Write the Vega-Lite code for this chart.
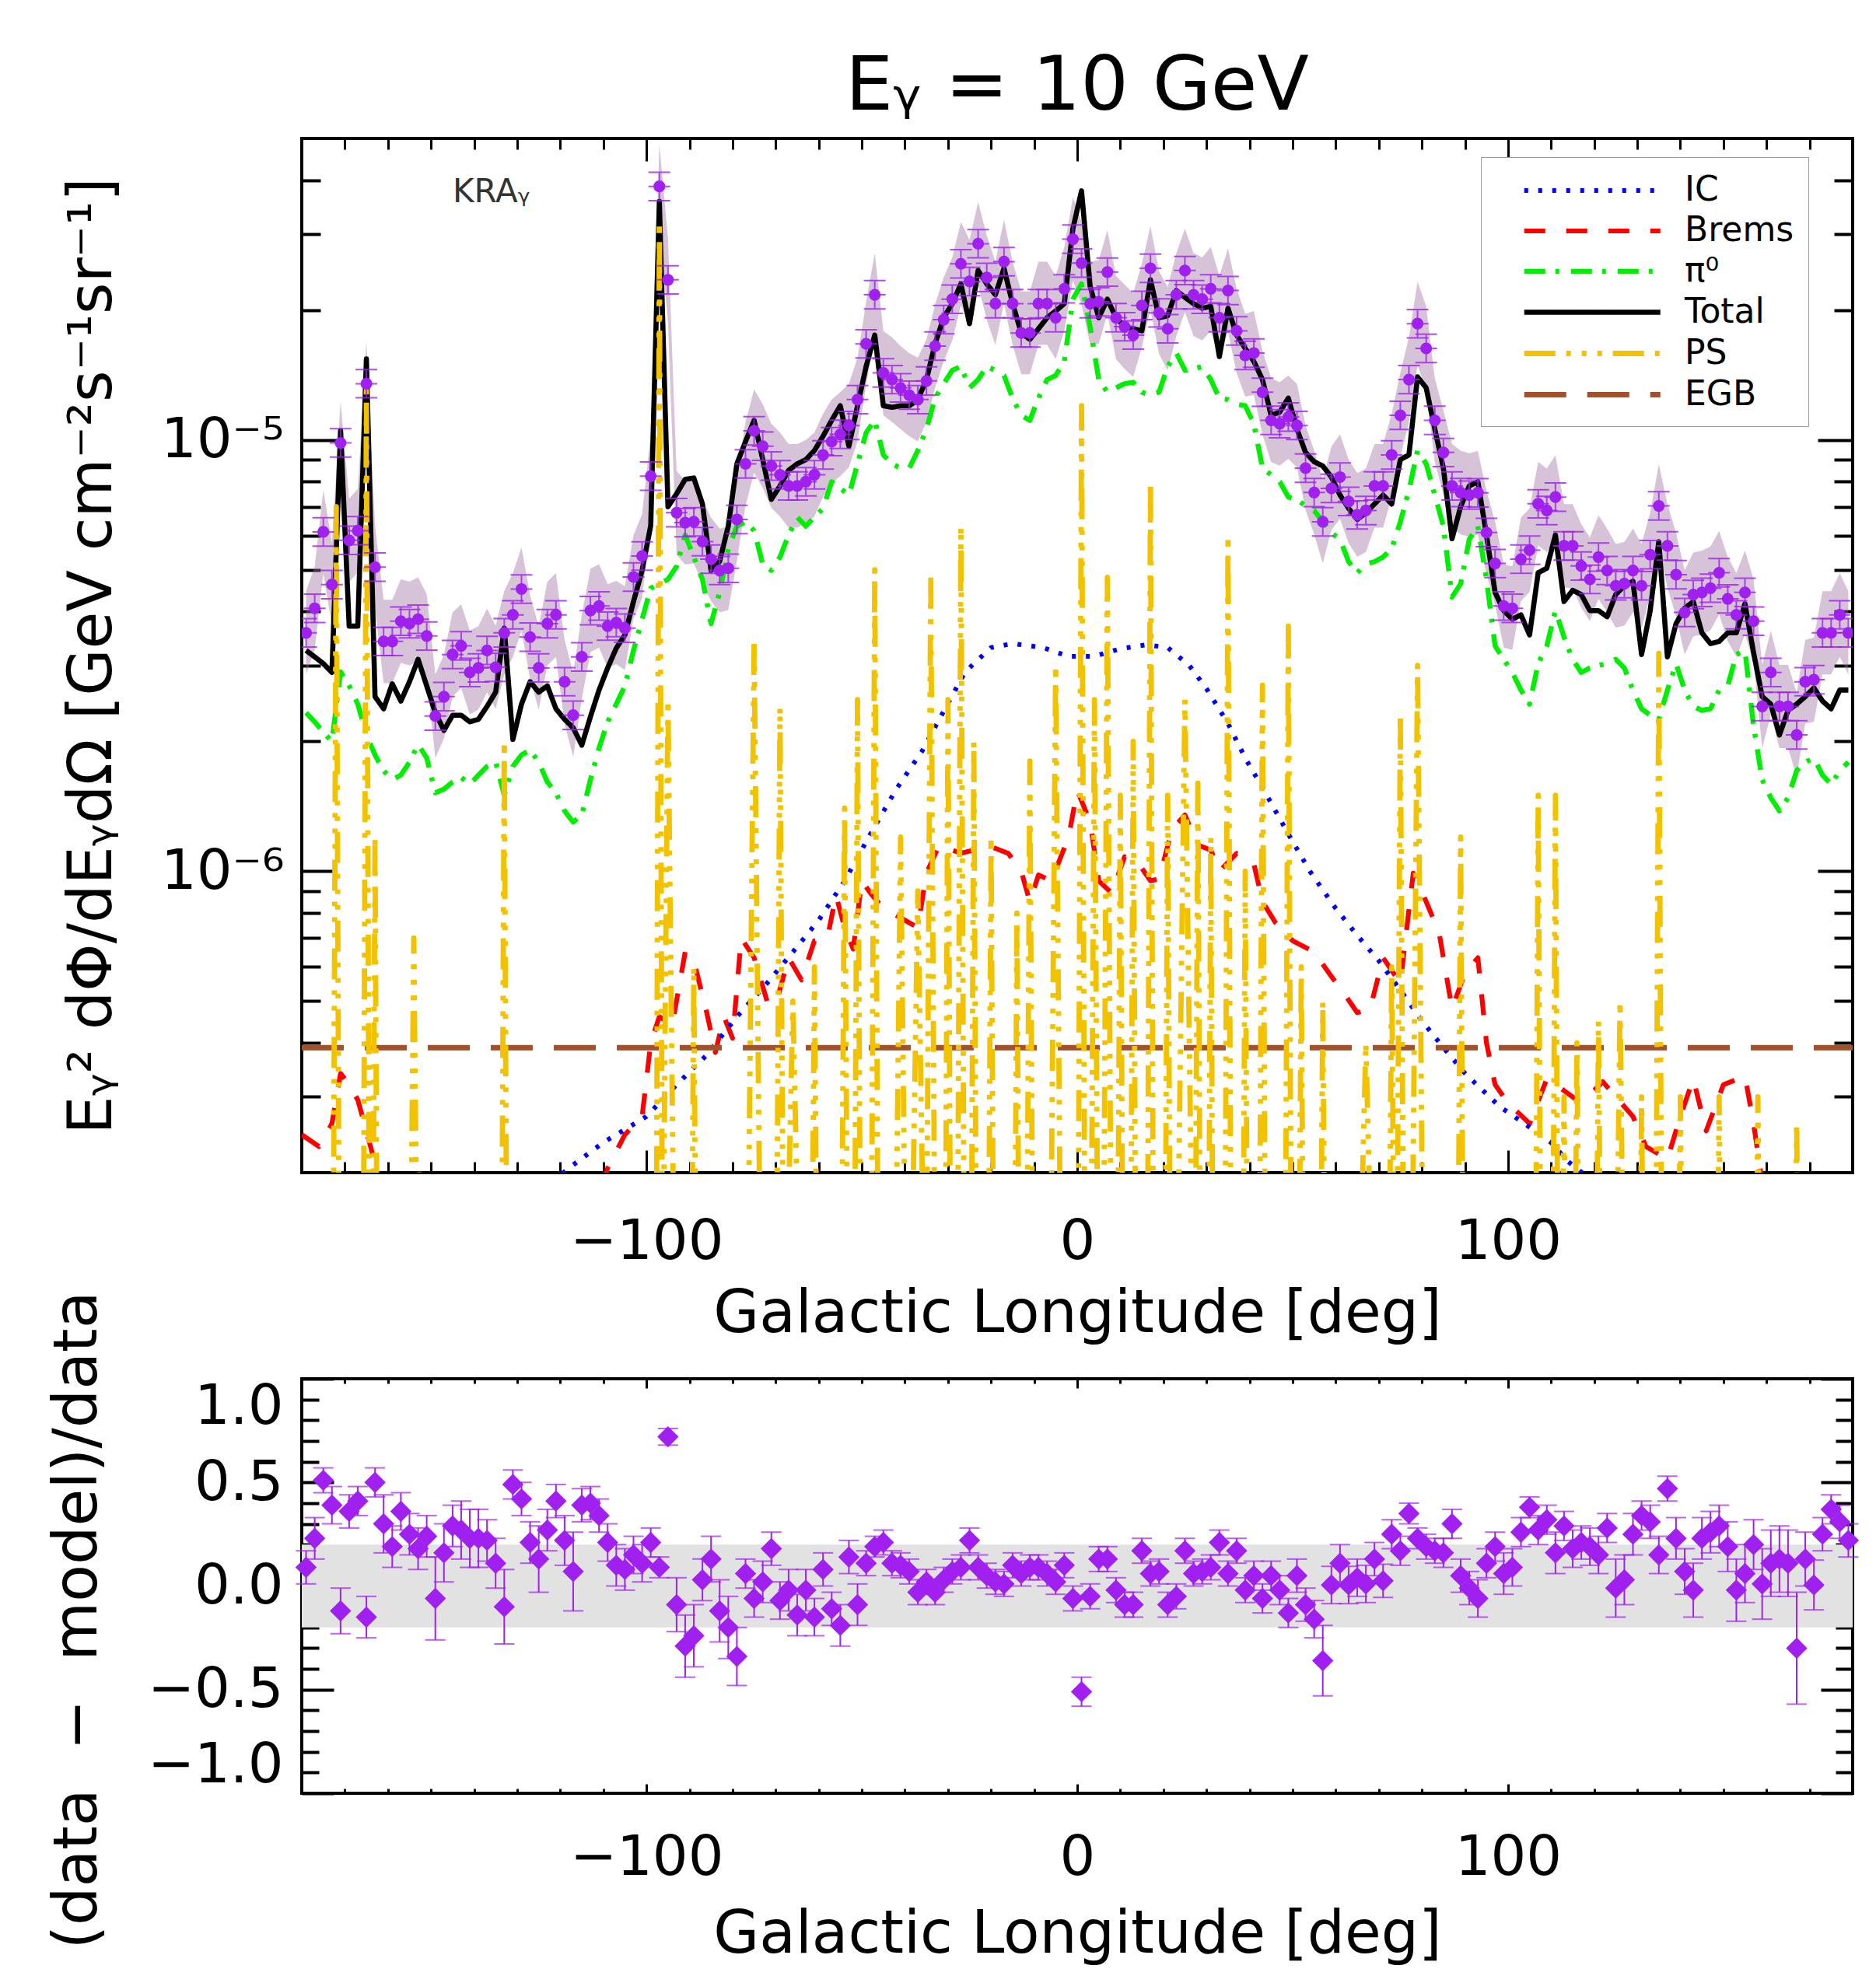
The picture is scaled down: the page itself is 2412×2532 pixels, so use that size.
{
"$schema": "https://vega.github.io/schema/vega-lite/v6.json",
"background": "white",
"padding": {"left": 59, "top": 60, "right": 20, "bottom": 0},
"bounds": "flush",
"spacing": 265,
"config": {
  "font": "DejaVu Sans",
  "view": {"stroke": "black", "strokeWidth": 4},
  "axis": {"grid": false, "domain": false, "tickColor": "black", "tickWidth": 3, "labelColor": "black", "titleColor": "black", "labelFont": "DejaVu Sans", "titleFont": "DejaVu Sans", "labelFontSize": 72, "titleFontSize": 76, "titleFontWeight": "normal", "labelFlush": false, "labelLimit": 600}
},
"datasets": {
"obs": [
{"l":-179,"d":3.57e-6,"lo":2.86e-6,"hi":4.46e-6,"r":0.09,"e":0.08},
{"l":-177,"d":4.07e-6,"lo":3.26e-6,"hi":5.09e-6,"r":0.23,"e":0.1},
{"l":-175,"d":6.12e-6,"lo":4.90e-6,"hi":7.65e-6,"r":0.51,"e":0.06},
{"l":-173,"d":4.62e-6,"lo":3.70e-6,"hi":5.78e-6,"r":0.39,"e":0.09},
{"l":-171,"d":9.84e-6,"lo":7.87e-6,"hi":12.3e-6,"r":-0.12,"e":0.11},
{"l":-169,"d":5.85e-6,"lo":4.68e-6,"hi":7.31e-6,"r":0.36,"e":0.08},
{"l":-167,"d":6.16e-6,"lo":4.93e-6,"hi":7.70e-6,"r":0.41,"e":0.07},
{"l":-165,"d":13.5e-6,"lo":10.8e-6,"hi":16.9e-6,"r":-0.15,"e":0.1},
{"l":-163,"d":5.07e-6,"lo":4.06e-6,"hi":6.34e-6,"r":0.50,"e":0.07},
{"l":-161,"d":3.41e-6,"lo":2.73e-6,"hi":4.26e-6,"r":0.30,"e":0.14},
{"l":-159,"d":3.41e-6,"lo":2.73e-6,"hi":4.26e-6,"r":0.19,"e":0.1},
{"l":-157,"d":3.80e-6,"lo":3.04e-6,"hi":4.75e-6,"r":0.36,"e":0.09},
{"l":-155,"d":3.75e-6,"lo":3.00e-6,"hi":4.69e-6,"r":0.25,"e":0.1},
{"l":-153,"d":3.84e-6,"lo":3.07e-6,"hi":4.80e-6,"r":0.18,"e":0.1},
{"l":-151,"d":3.51e-6,"lo":2.81e-6,"hi":4.39e-6,"r":0.24,"e":0.1},
{"l":-149,"d":2.29e-6,"lo":1.83e-6,"hi":2.86e-6,"r":-0.06,"e":0.2},
{"l":-147,"d":2.54e-6,"lo":2.03e-6,"hi":3.18e-6,"r":0.16,"e":0.14},
{"l":-145,"d":3.18e-6,"lo":2.54e-6,"hi":3.98e-6,"r":0.29,"e":0.1},
{"l":-143,"d":3.33e-6,"lo":2.66e-6,"hi":4.16e-6,"r":0.27,"e":0.14},
{"l":-141,"d":2.89e-6,"lo":2.31e-6,"hi":3.61e-6,"r":0.23,"e":0.14},
{"l":-139,"d":2.96e-6,"lo":2.37e-6,"hi":3.70e-6,"r":0.23,"e":0.14},
{"l":-137,"d":3.25e-6,"lo":2.60e-6,"hi":4.06e-6,"r":0.22,"e":0.1},
{"l":-135,"d":2.97e-6,"lo":2.38e-6,"hi":3.71e-6,"r":0.11,"e":0.12},
{"l":-133,"d":3.57e-6,"lo":2.86e-6,"hi":4.46e-6,"r":-0.10,"e":0.18},
{"l":-131,"d":3.93e-6,"lo":3.14e-6,"hi":4.91e-6,"r":0.49,"e":0.07},
{"l":-129,"d":4.51e-6,"lo":3.61e-6,"hi":5.64e-6,"r":0.42,"e":0.08},
{"l":-127,"d":3.49e-6,"lo":2.79e-6,"hi":4.36e-6,"r":0.21,"e":0.1},
{"l":-125,"d":2.96e-6,"lo":2.37e-6,"hi":3.70e-6,"r":0.13,"e":0.16},
{"l":-123,"d":3.75e-6,"lo":3.00e-6,"hi":4.69e-6,"r":0.27,"e":0.1},
{"l":-121,"d":3.93e-6,"lo":3.14e-6,"hi":4.91e-6,"r":0.41,"e":0.08},
{"l":-119,"d":2.75e-6,"lo":2.20e-6,"hi":3.44e-6,"r":0.22,"e":0.12},
{"l":-117,"d":2.30e-6,"lo":1.84e-6,"hi":2.88e-6,"r":0.07,"e":0.19},
{"l":-115,"d":3.14e-6,"lo":2.51e-6,"hi":3.93e-6,"r":0.39,"e":0.08},
{"l":-113,"d":4.02e-6,"lo":3.22e-6,"hi":5.03e-6,"r":0.40,"e":0.08},
{"l":-111,"d":4.12e-6,"lo":3.30e-6,"hi":5.15e-6,"r":0.34,"e":0.08},
{"l":-109,"d":3.70e-6,"lo":2.96e-6,"hi":4.63e-6,"r":0.21,"e":0.09},
{"l":-107,"d":3.77e-6,"lo":3.02e-6,"hi":4.71e-6,"r":0.10,"e":0.1},
{"l":-105,"d":3.66e-6,"lo":2.93e-6,"hi":4.58e-6,"r":0.08,"e":0.1},
{"l":-103,"d":4.81e-6,"lo":3.85e-6,"hi":6.01e-6,"r":0.15,"e":0.09},
{"l":-101,"d":5.38e-6,"lo":4.30e-6,"hi":6.73e-6,"r":0.11,"e":0.09},
{"l":-99,"d":8.24e-6,"lo":6.59e-6,"hi":10.3e-6,"r":0.21,"e":0.07},
{"l":-97,"d":38.7e-6,"lo":31.0e-6,"hi":48.4e-6,"r":0.09,"e":0.05},
{"l":-95,"d":23.5e-6,"lo":18.8e-6,"hi":29.4e-6,"r":0.72,"e":0.04},
{"l":-93,"d":6.78e-6,"lo":5.42e-6,"hi":8.48e-6,"r":-0.09,"e":0.13},
{"l":-91,"d":6.43e-6,"lo":5.14e-6,"hi":8.04e-6,"r":-0.29,"e":0.15},
{"l":-89,"d":6.46e-6,"lo":5.17e-6,"hi":8.08e-6,"r":-0.24,"e":0.15},
{"l":-87,"d":5.81e-6,"lo":4.65e-6,"hi":7.26e-6,"r":0.03,"e":0.1},
{"l":-85,"d":5.29e-6,"lo":4.23e-6,"hi":6.61e-6,"r":0.13,"e":0.11},
{"l":-83,"d":4.98e-6,"lo":3.98e-6,"hi":6.23e-6,"r":-0.12,"e":0.15},
{"l":-81,"d":5.04e-6,"lo":4.03e-6,"hi":6.30e-6,"r":-0.20,"e":0.15},
{"l":-79,"d":6.54e-6,"lo":5.23e-6,"hi":8.18e-6,"r":-0.34,"e":0.14},
{"l":-77,"d":8.80e-6,"lo":7.04e-6,"hi":11.0e-6,"r":0.06,"e":0.07},
{"l":-75,"d":10.5e-6,"lo":8.40e-6,"hi":13.1e-6,"r":-0.06,"e":0.09},
{"l":-73,"d":9.67e-6,"lo":7.74e-6,"hi":12.1e-6,"r":0.02,"e":0.1},
{"l":-71,"d":8.70e-6,"lo":6.96e-6,"hi":10.9e-6,"r":0.18,"e":0.08},
{"l":-69,"d":8.30e-6,"lo":6.64e-6,"hi":10.4e-6,"r":-0.07,"e":0.09},
{"l":-67,"d":7.82e-6,"lo":6.26e-6,"hi":9.78e-6,"r":-0.02,"e":0.1},
{"l":-65,"d":7.82e-6,"lo":6.26e-6,"hi":9.78e-6,"r":-0.14,"e":0.1},
{"l":-63,"d":8.00e-6,"lo":6.40e-6,"hi":10.0e-6,"r":-0.02,"e":0.1},
{"l":-61,"d":8.30e-6,"lo":6.64e-6,"hi":10.4e-6,"r":-0.15,"e":0.09},
{"l":-59,"d":9.23e-6,"lo":7.38e-6,"hi":11.5e-6,"r":0.08,"e":0.08},
{"l":-57,"d":9.91e-6,"lo":7.93e-6,"hi":12.4e-6,"r":-0.11,"e":0.08},
{"l":-55,"d":10.3e-6,"lo":8.24e-6,"hi":12.9e-6,"r":-0.19,"e":0.1},
{"l":-53,"d":10.8e-6,"lo":8.64e-6,"hi":13.5e-6,"r":0.14,"e":0.08},
{"l":-51,"d":12.4e-6,"lo":9.92e-6,"hi":15.5e-6,"r":-0.09,"e":0.1},
{"l":-49,"d":16.7e-6,"lo":13.4e-6,"hi":20.9e-6,"r":0.11,"e":0.06},
{"l":-47,"d":21.7e-6,"lo":17.4e-6,"hi":27.1e-6,"r":0.19,"e":0.05},
{"l":-45,"d":14.3e-6,"lo":11.4e-6,"hi":17.9e-6,"r":0.21,"e":0.06},
{"l":-43,"d":13.8e-6,"lo":11.0e-6,"hi":17.3e-6,"r":0.11,"e":0.06},
{"l":-41,"d":13.2e-6,"lo":10.6e-6,"hi":16.5e-6,"r":0.10,"e":0.06},
{"l":-39,"d":12.7e-6,"lo":10.2e-6,"hi":15.9e-6,"r":0.07,"e":0.06},
{"l":-37,"d":12.4e-6,"lo":9.92e-6,"hi":15.5e-6,"r":-0.03,"e":0.06},
{"l":-35,"d":13.7e-6,"lo":11.0e-6,"hi":17.1e-6,"r":0.02,"e":0.06},
{"l":-33,"d":16.5e-6,"lo":13.2e-6,"hi":20.6e-6,"r":-0.03,"e":0.06},
{"l":-31,"d":19.0e-6,"lo":15.2e-6,"hi":23.8e-6,"r":0.03,"e":0.06},
{"l":-29,"d":21.2e-6,"lo":17.0e-6,"hi":26.5e-6,"r":0.07,"e":0.06},
{"l":-27,"d":25.6e-6,"lo":20.5e-6,"hi":32.0e-6,"r":0.09,"e":0.06},
{"l":-25,"d":23.3e-6,"lo":18.6e-6,"hi":29.1e-6,"r":0.22,"e":0.06},
{"l":-23,"d":28.5e-6,"lo":22.8e-6,"hi":35.6e-6,"r":0.09,"e":0.06},
{"l":-21,"d":23.8e-6,"lo":19.0e-6,"hi":29.8e-6,"r":0.05,"e":0.06},
{"l":-19,"d":20.7e-6,"lo":16.6e-6,"hi":25.9e-6,"r":0.02,"e":0.06},
{"l":-17,"d":25.9e-6,"lo":20.7e-6,"hi":32.4e-6,"r":0.01,"e":0.06},
{"l":-15,"d":20.7e-6,"lo":16.6e-6,"hi":25.9e-6,"r":0.10,"e":0.06},
{"l":-13,"d":17.7e-6,"lo":14.2e-6,"hi":22.1e-6,"r":0.06,"e":0.06},
{"l":-11,"d":17.7e-6,"lo":14.2e-6,"hi":22.1e-6,"r":0.09,"e":0.06},
{"l":-9,"d":20.7e-6,"lo":16.6e-6,"hi":25.9e-6,"r":0.09,"e":0.06},
{"l":-7,"d":20.7e-6,"lo":16.6e-6,"hi":25.9e-6,"r":0.06,"e":0.06},
{"l":-5,"d":19.2e-6,"lo":15.4e-6,"hi":24.0e-6,"r":0.02,"e":0.06},
{"l":-3,"d":22.4e-6,"lo":17.9e-6,"hi":28.0e-6,"r":0.10,"e":0.06},
{"l":-1,"d":29.2e-6,"lo":23.4e-6,"hi":36.5e-6,"r":-0.06,"e":0.06},
{"l":1,"d":25.7e-6,"lo":20.6e-6,"hi":32.1e-6,"r":-0.51,"e":0.07},
{"l":3,"d":20.7e-6,"lo":16.6e-6,"hi":25.9e-6,"r":-0.05,"e":0.06},
{"l":5,"d":20.9e-6,"lo":16.7e-6,"hi":26.1e-6,"r":0.13,"e":0.06},
{"l":7,"d":24.5e-6,"lo":19.6e-6,"hi":30.6e-6,"r":0.13,"e":0.06},
{"l":9,"d":19.2e-6,"lo":15.4e-6,"hi":24.0e-6,"r":-0.02,"e":0.06},
{"l":11,"d":18.3e-6,"lo":14.6e-6,"hi":22.9e-6,"r":-0.09,"e":0.06},
{"l":13,"d":17.5e-6,"lo":14.0e-6,"hi":21.9e-6,"r":-0.09,"e":0.06},
{"l":15,"d":20.5e-6,"lo":16.4e-6,"hi":25.6e-6,"r":0.17,"e":0.06},
{"l":17,"d":25.0e-6,"lo":20.0e-6,"hi":31.3e-6,"r":0.06,"e":0.06},
{"l":19,"d":19.7e-6,"lo":15.8e-6,"hi":24.6e-6,"r":0.07,"e":0.06},
{"l":21,"d":18.1e-6,"lo":14.5e-6,"hi":22.6e-6,"r":-0.09,"e":0.06},
{"l":23,"d":21.7e-6,"lo":17.4e-6,"hi":27.1e-6,"r":-0.05,"e":0.06},
{"l":25,"d":24.7e-6,"lo":19.8e-6,"hi":30.9e-6,"r":0.17,"e":0.06},
{"l":27,"d":21.7e-6,"lo":17.4e-6,"hi":27.1e-6,"r":0.06,"e":0.06},
{"l":29,"d":21.2e-6,"lo":17.0e-6,"hi":26.5e-6,"r":0.07,"e":0.06},
{"l":31,"d":22.4e-6,"lo":17.9e-6,"hi":28.0e-6,"r":0.09,"e":0.06},
{"l":33,"d":19.2e-6,"lo":15.4e-6,"hi":24.0e-6,"r":0.21,"e":0.06},
{"l":35,"d":22.2e-6,"lo":17.8e-6,"hi":27.8e-6,"r":0.06,"e":0.06},
{"l":37,"d":17.9e-6,"lo":14.3e-6,"hi":22.4e-6,"r":0.17,"e":0.06},
{"l":39,"d":15.7e-6,"lo":12.6e-6,"hi":19.6e-6,"r":-0.02,"e":0.06},
{"l":41,"d":15.9e-6,"lo":12.7e-6,"hi":19.9e-6,"r":0.05,"e":0.07},
{"l":43,"d":12.9e-6,"lo":10.3e-6,"hi":16.1e-6,"r":-0.06,"e":0.07},
{"l":45,"d":11.1e-6,"lo":8.88e-6,"hi":13.9e-6,"r":0.05,"e":0.07},
{"l":47,"d":10.9e-6,"lo":8.72e-6,"hi":13.6e-6,"r":-0.02,"e":0.07},
{"l":49,"d":11.3e-6,"lo":9.04e-6,"hi":14.1e-6,"r":-0.13,"e":0.07},
{"l":51,"d":10.8e-6,"lo":8.64e-6,"hi":13.5e-6,"r":0.05,"e":0.08},
{"l":53,"d":8.60e-6,"lo":6.88e-6,"hi":10.8e-6,"r":-0.09,"e":0.08},
{"l":55,"d":7.55e-6,"lo":6.04e-6,"hi":9.44e-6,"r":-0.16,"e":0.09},
{"l":57,"d":6.46e-6,"lo":5.17e-6,"hi":8.08e-6,"r":-0.36,"e":0.17},
{"l":59,"d":7.72e-6,"lo":6.18e-6,"hi":9.65e-6,"r":0.005,"e":0.09},
{"l":61,"d":8.20e-6,"lo":6.56e-6,"hi":10.3e-6,"r":0.11,"e":0.09},
{"l":63,"d":7.20e-6,"lo":5.76e-6,"hi":9.00e-6,"r":0.005,"e":0.09},
{"l":65,"d":6.70e-6,"lo":5.36e-6,"hi":8.38e-6,"r":0.04,"e":0.09},
{"l":67,"d":6.86e-6,"lo":5.49e-6,"hi":8.58e-6,"r":0.01,"e":0.09},
{"l":69,"d":7.82e-6,"lo":6.26e-6,"hi":9.78e-6,"r":0.13,"e":0.08},
{"l":71,"d":7.82e-6,"lo":6.26e-6,"hi":9.78e-6,"r":0.025,"e":0.08},
{"l":73,"d":9.23e-6,"lo":7.38e-6,"hi":11.5e-6,"r":0.25,"e":0.07},
{"l":75,"d":11.4e-6,"lo":9.12e-6,"hi":14.3e-6,"r":0.17,"e":0.07},
{"l":77,"d":13.8e-6,"lo":11.0e-6,"hi":17.3e-6,"r":0.35,"e":0.05},
{"l":79,"d":18.6e-6,"lo":14.9e-6,"hi":23.3e-6,"r":0.23,"e":0.05},
{"l":81,"d":16.3e-6,"lo":13.0e-6,"hi":20.4e-6,"r":0.19,"e":0.06},
{"l":83,"d":11.1e-6,"lo":8.88e-6,"hi":13.9e-6,"r":0.17,"e":0.06},
{"l":85,"d":9.35e-6,"lo":7.48e-6,"hi":11.7e-6,"r":0.16,"e":0.07},
{"l":87,"d":7.82e-6,"lo":6.26e-6,"hi":9.78e-6,"r":0.30,"e":0.07},
{"l":89,"d":7.55e-6,"lo":6.04e-6,"hi":9.44e-6,"r":0.05,"e":0.08},
{"l":91,"d":7.45e-6,"lo":5.96e-6,"hi":9.31e-6,"r":-0.01,"e":0.08},
{"l":93,"d":7.54e-6,"lo":6.03e-6,"hi":9.43e-6,"r":-0.06,"e":0.09},
{"l":95,"d":6.10e-6,"lo":4.88e-6,"hi":7.63e-6,"r":0.11,"e":0.07},
{"l":97,"d":5.17e-6,"lo":4.14e-6,"hi":6.46e-6,"r":0.19,"e":0.07},
{"l":99,"d":4.12e-6,"lo":3.30e-6,"hi":5.15e-6,"r":0.06,"e":0.1},
{"l":101,"d":4.07e-6,"lo":3.26e-6,"hi":5.09e-6,"r":0.09,"e":0.09},
{"l":103,"d":5.29e-6,"lo":4.23e-6,"hi":6.61e-6,"r":0.26,"e":0.07},
{"l":105,"d":5.55e-6,"lo":4.44e-6,"hi":6.94e-6,"r":0.38,"e":0.05},
{"l":107,"d":7.11e-6,"lo":5.69e-6,"hi":8.89e-6,"r":0.27,"e":0.07},
{"l":109,"d":6.86e-6,"lo":5.49e-6,"hi":8.58e-6,"r":0.32,"e":0.07},
{"l":111,"d":7.37e-6,"lo":5.90e-6,"hi":9.21e-6,"r":0.16,"e":0.1},
{"l":113,"d":5.68e-6,"lo":4.54e-6,"hi":7.10e-6,"r":0.29,"e":0.07},
{"l":115,"d":5.68e-6,"lo":4.54e-6,"hi":7.10e-6,"r":0.18,"e":0.09},
{"l":117,"d":5.10e-6,"lo":4.08e-6,"hi":6.38e-6,"r":0.21,"e":0.08},
{"l":119,"d":4.75e-6,"lo":3.80e-6,"hi":5.94e-6,"r":0.19,"e":0.09},
{"l":121,"d":5.35e-6,"lo":4.28e-6,"hi":6.69e-6,"r":0.15,"e":0.09},
{"l":123,"d":4.98e-6,"lo":3.98e-6,"hi":6.23e-6,"r":0.28,"e":0.07},
{"l":125,"d":4.59e-6,"lo":3.67e-6,"hi":5.74e-6,"r":-0.01,"e":0.14},
{"l":127,"d":4.64e-6,"lo":3.71e-6,"hi":5.80e-6,"r":0.03,"e":0.12},
{"l":129,"d":4.98e-6,"lo":3.98e-6,"hi":6.23e-6,"r":0.25,"e":0.1},
{"l":131,"d":4.59e-6,"lo":3.67e-6,"hi":5.74e-6,"r":0.34,"e":0.07},
{"l":133,"d":5.42e-6,"lo":4.34e-6,"hi":6.78e-6,"r":0.31,"e":0.08},
{"l":135,"d":7.03e-6,"lo":5.62e-6,"hi":8.79e-6,"r":0.15,"e":0.09},
{"l":137,"d":5.68e-6,"lo":4.54e-6,"hi":7.10e-6,"r":0.47,"e":0.06},
{"l":139,"d":4.87e-6,"lo":3.90e-6,"hi":6.09e-6,"r":0.23,"e":0.1},
{"l":141,"d":3.98e-6,"lo":3.18e-6,"hi":4.98e-6,"r":0.07,"e":0.11},
{"l":143,"d":4.38e-6,"lo":3.50e-6,"hi":5.48e-6,"r":-0.02,"e":0.13},
{"l":145,"d":4.43e-6,"lo":3.54e-6,"hi":5.54e-6,"r":0.23,"e":0.1},
{"l":147,"d":4.53e-6,"lo":3.62e-6,"hi":5.66e-6,"r":0.26,"e":0.1},
{"l":149,"d":4.92e-6,"lo":3.94e-6,"hi":6.15e-6,"r":0.29,"e":0.1},
{"l":151,"d":4.28e-6,"lo":3.42e-6,"hi":5.35e-6,"r":0.19,"e":0.12},
{"l":153,"d":3.93e-6,"lo":3.14e-6,"hi":4.91e-6,"r":-0.02,"e":0.15},
{"l":155,"d":4.43e-6,"lo":3.54e-6,"hi":5.54e-6,"r":0.06,"e":0.14},
{"l":157,"d":3.80e-6,"lo":3.04e-6,"hi":4.75e-6,"r":0.20,"e":0.12},
{"l":159,"d":2.41e-6,"lo":1.93e-6,"hi":3.01e-6,"r":0.01,"e":0.17},
{"l":161,"d":2.89e-6,"lo":2.31e-6,"hi":3.61e-6,"r":0.11,"e":0.16},
{"l":163,"d":2.41e-6,"lo":1.93e-6,"hi":3.01e-6,"r":0.13,"e":0.16},
{"l":165,"d":2.41e-6,"lo":1.93e-6,"hi":3.01e-6,"r":0.11,"e":0.16},
{"l":167,"d":2.07e-6,"lo":1.66e-6,"hi":2.59e-6,"r":-0.30,"e":0.27},
{"l":169,"d":2.75e-6,"lo":2.20e-6,"hi":3.44e-6,"r":0.13,"e":0.13},
{"l":171,"d":2.78e-6,"lo":2.22e-6,"hi":3.48e-6,"r":0.005,"e":0.12},
{"l":173,"d":3.57e-6,"lo":2.86e-6,"hi":4.46e-6,"r":0.25,"e":0.08},
{"l":175,"d":3.57e-6,"lo":2.86e-6,"hi":4.46e-6,"r":0.37,"e":0.07},
{"l":177,"d":3.93e-6,"lo":3.14e-6,"hi":4.91e-6,"r":0.31,"e":0.08},
{"l":179,"d":3.57e-6,"lo":2.86e-6,"hi":4.46e-6,"r":0.22,"e":0.08}
],
"curves": [
{"c":"Total","l":-179,"v":3.25e-6},{"c":"Total","l":-177,"v":3.14e-6},{"c":"Total","l":-175,"v":3.03e-6},{"c":"Total","l":-173,"v":2.89e-6},{"c":"Total","l":-171,"v":10.5e-6},{"c":"Total","l":-169,"v":3.70e-6},{"c":"Total","l":-167,"v":3.70e-6},{"c":"Total","l":-165,"v":15.4e-6},{"c":"Total","l":-163,"v":2.54e-6},{"c":"Total","l":-161,"v":2.38e-6},
{"c":"Total","l":-159,"v":2.72e-6},{"c":"Total","l":-157,"v":2.48e-6},{"c":"Total","l":-155,"v":2.75e-6},{"c":"Total","l":-153,"v":3.10e-6},{"c":"Total","l":-151,"v":2.69e-6},{"c":"Total","l":-149,"v":2.33e-6},{"c":"Total","l":-147,"v":2.12e-6},{"c":"Total","l":-145,"v":2.30e-6},{"c":"Total","l":-143,"v":2.30e-6},{"c":"Total","l":-141,"v":2.22e-6},
{"c":"Total","l":-139,"v":2.25e-6},{"c":"Total","l":-137,"v":2.41e-6},{"c":"Total","l":-135,"v":2.60e-6},{"c":"Total","l":-133,"v":3.66e-6},{"c":"Total","l":-131,"v":2.02e-6},{"c":"Total","l":-129,"v":2.44e-6},{"c":"Total","l":-127,"v":2.75e-6},{"c":"Total","l":-125,"v":2.60e-6},{"c":"Total","l":-123,"v":2.69e-6},{"c":"Total","l":-121,"v":2.38e-6},
{"c":"Total","l":-119,"v":2.25e-6},{"c":"Total","l":-117,"v":2.15e-6},{"c":"Total","l":-115,"v":1.96e-6},{"c":"Total","l":-113,"v":2.28e-6},{"c":"Total","l":-111,"v":2.63e-6},{"c":"Total","l":-109,"v":2.96e-6},{"c":"Total","l":-107,"v":3.29e-6},{"c":"Total","l":-105,"v":3.53e-6},{"c":"Total","l":-103,"v":4.22e-6},{"c":"Total","l":-101,"v":4.98e-6},
{"c":"Total","l":-99,"v":6.33e-6},{"c":"Total","l":-97,"v":35.7e-6},{"c":"Total","l":-95,"v":7.0e-6},{"c":"Total","l":-93,"v":7.5e-6},{"c":"Total","l":-91,"v":8.1e-6},{"c":"Total","l":-89,"v":8.16e-6},{"c":"Total","l":-87,"v":7.11e-6},{"c":"Total","l":-85,"v":4.98e-6},{"c":"Total","l":-83,"v":5.23e-6},{"c":"Total","l":-81,"v":6.31e-6},
{"c":"Total","l":-79,"v":8.80e-6},{"c":"Total","l":-77,"v":9.91e-6},{"c":"Total","l":-75,"v":11.1e-6},{"c":"Total","l":-73,"v":9.0e-6},{"c":"Total","l":-71,"v":7.28e-6},{"c":"Total","l":-69,"v":7.82e-6},{"c":"Total","l":-67,"v":8.5e-6},{"c":"Total","l":-65,"v":8.8e-6},{"c":"Total","l":-63,"v":9.0e-6},{"c":"Total","l":-61,"v":9.45e-6},
{"c":"Total","l":-59,"v":10.2e-6},{"c":"Total","l":-57,"v":11.1e-6},{"c":"Total","l":-55,"v":12.0e-6},{"c":"Total","l":-53,"v":9.67e-6},{"c":"Total","l":-51,"v":12.0e-6},{"c":"Total","l":-49,"v":14.8e-6},{"c":"Total","l":-47,"v":17.5e-6},{"c":"Total","l":-45,"v":12.0e-6},{"c":"Total","l":-43,"v":11.9e-6},{"c":"Total","l":-41,"v":12.0e-6},
{"c":"Total","l":-39,"v":12.0e-6},{"c":"Total","l":-37,"v":12.4e-6},{"c":"Total","l":-35,"v":13.8e-6},{"c":"Total","l":-33,"v":16.7e-6},{"c":"Total","l":-31,"v":19.2e-6},{"c":"Total","l":-29,"v":20.7e-6},{"c":"Total","l":-27,"v":23.0e-6},{"c":"Total","l":-25,"v":18.6e-6},{"c":"Total","l":-23,"v":24.7e-6},{"c":"Total","l":-21,"v":23.0e-6},
{"c":"Total","l":-19,"v":21.7e-6},{"c":"Total","l":-17,"v":25.0e-6},{"c":"Total","l":-15,"v":20.7e-6},{"c":"Total","l":-13,"v":17.7e-6},{"c":"Total","l":-11,"v":17.1e-6},{"c":"Total","l":-9,"v":18.1e-6},{"c":"Total","l":-7,"v":19.2e-6},{"c":"Total","l":-5,"v":19.9e-6},{"c":"Total","l":-3,"v":20.7e-6},{"c":"Total","l":-1,"v":30.9e-6},
{"c":"Total","l":1,"v":37.8e-6},{"c":"Total","l":3,"v":22.7e-6},{"c":"Total","l":5,"v":19.2e-6},{"c":"Total","l":7,"v":21.2e-6},{"c":"Total","l":9,"v":19.2e-6},{"c":"Total","l":11,"v":18.3e-6},{"c":"Total","l":13,"v":18.1e-6},{"c":"Total","l":15,"v":17.9e-6},{"c":"Total","l":17,"v":23.5e-6},{"c":"Total","l":19,"v":19.2e-6},
{"c":"Total","l":21,"v":19.4e-6},{"c":"Total","l":23,"v":22.2e-6},{"c":"Total","l":25,"v":21.4e-6},{"c":"Total","l":27,"v":20.7e-6},{"c":"Total","l":29,"v":20.2e-6},{"c":"Total","l":31,"v":20.4e-6},{"c":"Total","l":33,"v":15.6e-6},{"c":"Total","l":35,"v":20.2e-6},{"c":"Total","l":37,"v":17.5e-6},{"c":"Total","l":39,"v":16.3e-6},
{"c":"Total","l":41,"v":15.2e-6},{"c":"Total","l":43,"v":13.8e-6},{"c":"Total","l":45,"v":11.4e-6},{"c":"Total","l":47,"v":11.6e-6},{"c":"Total","l":49,"v":12.5e-6},{"c":"Total","l":51,"v":10.6e-6},{"c":"Total","l":53,"v":9.35e-6},{"c":"Total","l":55,"v":8.9e-6},{"c":"Total","l":57,"v":8.7e-6},{"c":"Total","l":59,"v":8.2e-6},
{"c":"Total","l":61,"v":7.45e-6},{"c":"Total","l":63,"v":6.94e-6},{"c":"Total","l":65,"v":6.54e-6},{"c":"Total","l":67,"v":6.78e-6},{"c":"Total","l":69,"v":7.1e-6},{"c":"Total","l":71,"v":7.45e-6},{"c":"Total","l":73,"v":7.1e-6},{"c":"Total","l":75,"v":9.0e-6},{"c":"Total","l":77,"v":9.23e-6},{"c":"Total","l":79,"v":14.0e-6},
{"c":"Total","l":81,"v":13.2e-6},{"c":"Total","l":83,"v":10.6e-6},{"c":"Total","l":85,"v":8.6e-6},{"c":"Total","l":87,"v":5.9e-6},{"c":"Total","l":89,"v":7.0e-6},{"c":"Total","l":91,"v":7.82e-6},{"c":"Total","l":93,"v":8.0e-6},{"c":"Total","l":95,"v":6.02e-6},{"c":"Total","l":97,"v":4.43e-6},{"c":"Total","l":99,"v":4.02e-6},
{"c":"Total","l":101,"v":3.84e-6},{"c":"Total","l":103,"v":3.93e-6},{"c":"Total","l":105,"v":3.53e-6},{"c":"Total","l":107,"v":4.92e-6},{"c":"Total","l":109,"v":5.04e-6},{"c":"Total","l":111,"v":6.02e-6},{"c":"Total","l":113,"v":4.22e-6},{"c":"Total","l":115,"v":4.48e-6},{"c":"Total","l":117,"v":4.38e-6},{"c":"Total","l":119,"v":4.02e-6},
{"c":"Total","l":121,"v":4.02e-6},{"c":"Total","l":123,"v":3.89e-6},{"c":"Total","l":125,"v":4.38e-6},{"c":"Total","l":127,"v":4.59e-6},{"c":"Total","l":129,"v":4.70e-6},{"c":"Total","l":131,"v":3.18e-6},{"c":"Total","l":133,"v":4.02e-6},{"c":"Total","l":135,"v":5.81e-6},{"c":"Total","l":137,"v":3.14e-6},{"c":"Total","l":139,"v":3.75e-6},
{"c":"Total","l":141,"v":4.07e-6},{"c":"Total","l":143,"v":4.22e-6},{"c":"Total","l":145,"v":3.57e-6},{"c":"Total","l":147,"v":3.37e-6},{"c":"Total","l":149,"v":3.41e-6},{"c":"Total","l":151,"v":3.57e-6},{"c":"Total","l":153,"v":3.57e-6},{"c":"Total","l":155,"v":4.17e-6},{"c":"Total","l":157,"v":3.21e-6},{"c":"Total","l":159,"v":2.54e-6},
{"c":"Total","l":161,"v":2.44e-6},{"c":"Total","l":163,"v":2.07e-6},{"c":"Total","l":165,"v":2.36e-6},{"c":"Total","l":167,"v":2.44e-6},{"c":"Total","l":169,"v":2.54e-6},{"c":"Total","l":171,"v":2.66e-6},{"c":"Total","l":173,"v":2.48e-6},{"c":"Total","l":175,"v":2.38e-6},{"c":"Total","l":177,"v":2.63e-6},{"c":"Total","l":179,"v":2.63e-6},
{"c":"π⁰","l":-179,"v":2.33e-6},{"c":"π⁰","l":-177,"v":2.22e-6},{"c":"π⁰","l":-175,"v":2.10e-6},{"c":"π⁰","l":-173,"v":2.00e-6},{"c":"π⁰","l":-171,"v":2.9e-6},{"c":"π⁰","l":-169,"v":2.69e-6},{"c":"π⁰","l":-167,"v":2.44e-6},{"c":"π⁰","l":-165,"v":2.07e-6},{"c":"π⁰","l":-163,"v":1.86e-6},{"c":"π⁰","l":-161,"v":1.71e-6},
{"c":"π⁰","l":-159,"v":1.63e-6},{"c":"π⁰","l":-157,"v":1.67e-6},{"c":"π⁰","l":-155,"v":1.79e-6},{"c":"π⁰","l":-153,"v":1.97e-6},{"c":"π⁰","l":-151,"v":1.83e-6},{"c":"π⁰","l":-149,"v":1.52e-6},{"c":"π⁰","l":-147,"v":1.55e-6},{"c":"π⁰","l":-145,"v":1.61e-6},{"c":"π⁰","l":-143,"v":1.65e-6},{"c":"π⁰","l":-141,"v":1.59e-6},
{"c":"π⁰","l":-139,"v":1.67e-6},{"c":"π⁰","l":-137,"v":1.75e-6},{"c":"π⁰","l":-135,"v":1.79e-6},{"c":"π⁰","l":-133,"v":1.50e-6},{"c":"π⁰","l":-131,"v":1.75e-6},{"c":"π⁰","l":-129,"v":1.86e-6},{"c":"π⁰","l":-127,"v":1.91e-6},{"c":"π⁰","l":-125,"v":1.79e-6},{"c":"π⁰","l":-123,"v":1.61e-6},{"c":"π⁰","l":-121,"v":1.52e-6},
{"c":"π⁰","l":-119,"v":1.38e-6},{"c":"π⁰","l":-117,"v":1.30e-6},{"c":"π⁰","l":-115,"v":1.35e-6},{"c":"π⁰","l":-113,"v":1.63e-6},{"c":"π⁰","l":-111,"v":1.93e-6},{"c":"π⁰","l":-109,"v":2.22e-6},{"c":"π⁰","l":-107,"v":2.44e-6},{"c":"π⁰","l":-105,"v":2.69e-6},{"c":"π⁰","l":-103,"v":3.25e-6},{"c":"π⁰","l":-101,"v":3.84e-6},
{"c":"π⁰","l":-99,"v":4.53e-6},{"c":"π⁰","l":-97,"v":4.64e-6},{"c":"π⁰","l":-95,"v":4.75e-6},{"c":"π⁰","l":-93,"v":5.09e-6},{"c":"π⁰","l":-91,"v":6.02e-6},{"c":"π⁰","l":-89,"v":5.35e-6},{"c":"π⁰","l":-87,"v":4.75e-6},{"c":"π⁰","l":-85,"v":3.75e-6},{"c":"π⁰","l":-83,"v":4.43e-6},{"c":"π⁰","l":-81,"v":5.6e-6},
{"c":"π⁰","l":-79,"v":6.31e-6},{"c":"π⁰","l":-77,"v":6.46e-6},{"c":"π⁰","l":-75,"v":6.16e-6},{"c":"π⁰","l":-73,"v":5.15e-6},{"c":"π⁰","l":-71,"v":4.98e-6},{"c":"π⁰","l":-69,"v":5.35e-6},{"c":"π⁰","l":-67,"v":6.02e-6},{"c":"π⁰","l":-65,"v":6.62e-6},{"c":"π⁰","l":-63,"v":6.31e-6},{"c":"π⁰","l":-61,"v":6.62e-6},
{"c":"π⁰","l":-59,"v":6.94e-6},{"c":"π⁰","l":-57,"v":8.0e-6},{"c":"π⁰","l":-55,"v":7.72e-6},{"c":"π⁰","l":-53,"v":7.45e-6},{"c":"π⁰","l":-51,"v":8.8e-6},{"c":"π⁰","l":-49,"v":10.4e-6},{"c":"π⁰","l":-47,"v":11.1e-6},{"c":"π⁰","l":-45,"v":9.23e-6},{"c":"π⁰","l":-43,"v":8.8e-6},{"c":"π⁰","l":-41,"v":8.6e-6},
{"c":"π⁰","l":-39,"v":8.6e-6},{"c":"π⁰","l":-37,"v":9.45e-6},{"c":"π⁰","l":-35,"v":10.6e-6},{"c":"π⁰","l":-33,"v":12.5e-6},{"c":"π⁰","l":-31,"v":13.5e-6},{"c":"π⁰","l":-29,"v":14.5e-6},{"c":"π⁰","l":-27,"v":14.8e-6},{"c":"π⁰","l":-25,"v":13.2e-6},{"c":"π⁰","l":-23,"v":13.8e-6},{"c":"π⁰","l":-21,"v":14.8e-6},
{"c":"π⁰","l":-19,"v":14.5e-6},{"c":"π⁰","l":-17,"v":14.1e-6},{"c":"π⁰","l":-15,"v":12.5e-6},{"c":"π⁰","l":-13,"v":11.4e-6},{"c":"π⁰","l":-11,"v":11.1e-6},{"c":"π⁰","l":-9,"v":12.5e-6},{"c":"π⁰","l":-7,"v":13.8e-6},{"c":"π⁰","l":-5,"v":14.1e-6},{"c":"π⁰","l":-3,"v":15.2e-6},{"c":"π⁰","l":-1,"v":21.2e-6},
{"c":"π⁰","l":1,"v":23.0e-6},{"c":"π⁰","l":3,"v":18.3e-6},{"c":"π⁰","l":5,"v":13.8e-6},{"c":"π⁰","l":7,"v":12.9e-6},{"c":"π⁰","l":9,"v":13.2e-6},{"c":"π⁰","l":11,"v":13.5e-6},{"c":"π⁰","l":13,"v":13.6e-6},{"c":"π⁰","l":15,"v":12.9e-6},{"c":"π⁰","l":17,"v":12.7e-6},{"c":"π⁰","l":19,"v":12.9e-6},
{"c":"π⁰","l":21,"v":14.8e-6},{"c":"π⁰","l":23,"v":15.9e-6},{"c":"π⁰","l":25,"v":14.5e-6},{"c":"π⁰","l":27,"v":14.6e-6},{"c":"π⁰","l":29,"v":14.8e-6},{"c":"π⁰","l":31,"v":13.8e-6},{"c":"π⁰","l":33,"v":12.5e-6},{"c":"π⁰","l":35,"v":12.4e-6},{"c":"π⁰","l":37,"v":12.1e-6},{"c":"π⁰","l":39,"v":12.0e-6},
{"c":"π⁰","l":41,"v":10.9e-6},{"c":"π⁰","l":43,"v":8.6e-6},{"c":"π⁰","l":45,"v":8.3e-6},{"c":"π⁰","l":47,"v":8.0e-6},{"c":"π⁰","l":49,"v":7.37e-6},{"c":"π⁰","l":51,"v":7.28e-6},{"c":"π⁰","l":53,"v":7.03e-6},{"c":"π⁰","l":55,"v":6.86e-6},{"c":"π⁰","l":57,"v":6.46e-6},{"c":"π⁰","l":59,"v":6.09e-6},
{"c":"π⁰","l":61,"v":5.88e-6},{"c":"π⁰","l":63,"v":5.22e-6},{"c":"π⁰","l":65,"v":4.92e-6},{"c":"π⁰","l":67,"v":5.15e-6},{"c":"π⁰","l":69,"v":5.22e-6},{"c":"π⁰","l":71,"v":5.35e-6},{"c":"π⁰","l":73,"v":5.6e-6},{"c":"π⁰","l":75,"v":6.46e-6},{"c":"π⁰","l":77,"v":7.64e-6},{"c":"π⁰","l":79,"v":9.45e-6},
{"c":"π⁰","l":81,"v":8.8e-6},{"c":"π⁰","l":83,"v":7.45e-6},{"c":"π⁰","l":85,"v":6.31e-6},{"c":"π⁰","l":87,"v":4.32e-6},{"c":"π⁰","l":89,"v":4.64e-6},{"c":"π⁰","l":91,"v":5.88e-6},{"c":"π⁰","l":93,"v":6.31e-6},{"c":"π⁰","l":95,"v":4.75e-6},{"c":"π⁰","l":97,"v":3.33e-6},{"c":"π⁰","l":99,"v":3.10e-6},
{"c":"π⁰","l":101,"v":2.89e-6},{"c":"π⁰","l":103,"v":2.63e-6},{"c":"π⁰","l":105,"v":2.44e-6},{"c":"π⁰","l":107,"v":3.03e-6},{"c":"π⁰","l":109,"v":3.33e-6},{"c":"π⁰","l":111,"v":4.02e-6},{"c":"π⁰","l":113,"v":3.49e-6},{"c":"π⁰","l":115,"v":3.10e-6},{"c":"π⁰","l":117,"v":2.89e-6},{"c":"π⁰","l":119,"v":2.96e-6},
{"c":"π⁰","l":121,"v":3.0e-6},{"c":"π⁰","l":123,"v":3.03e-6},{"c":"π⁰","l":125,"v":3.10e-6},{"c":"π⁰","l":127,"v":2.96e-6},{"c":"π⁰","l":129,"v":2.63e-6},{"c":"π⁰","l":131,"v":2.38e-6},{"c":"π⁰","l":133,"v":2.30e-6},{"c":"π⁰","l":135,"v":2.25e-6},{"c":"π⁰","l":137,"v":2.63e-6},{"c":"π⁰","l":139,"v":3.03e-6},
{"c":"π⁰","l":141,"v":2.63e-6},{"c":"π⁰","l":143,"v":2.41e-6},{"c":"π⁰","l":145,"v":2.36e-6},{"c":"π⁰","l":147,"v":2.38e-6},{"c":"π⁰","l":149,"v":2.63e-6},{"c":"π⁰","l":151,"v":2.69e-6},{"c":"π⁰","l":153,"v":3.18e-6},{"c":"π⁰","l":155,"v":3.25e-6},{"c":"π⁰","l":157,"v":2.17e-6},{"c":"π⁰","l":159,"v":1.63e-6},
{"c":"π⁰","l":161,"v":1.48e-6},{"c":"π⁰","l":163,"v":1.38e-6},{"c":"π⁰","l":165,"v":1.48e-6},{"c":"π⁰","l":167,"v":1.71e-6},{"c":"π⁰","l":169,"v":1.79e-6},{"c":"π⁰","l":171,"v":1.83e-6},{"c":"π⁰","l":173,"v":1.67e-6},{"c":"π⁰","l":175,"v":1.59e-6},{"c":"π⁰","l":177,"v":1.71e-6},{"c":"π⁰","l":179,"v":1.79e-6},
{"c":"Brems","l":-180,"v":2.45e-7},{"c":"Brems","l":-176,"v":2.3e-7},{"c":"Brems","l":-173,"v":2.6e-7},{"c":"Brems","l":-171,"v":3.4e-7},{"c":"Brems","l":-169,"v":3.2e-7},{"c":"Brems","l":-167,"v":2.95e-7},{"c":"Brems","l":-165,"v":2.5e-7},{"c":"Brems","l":-163,"v":2.1e-7},{"c":"Brems","l":-161,"v":1.6e-7},{"c":"Brems","l":-156,"v":1.5e-7},
{"c":"Brems","l":-153,"v":2.05e-7},{"c":"Brems","l":-151,"v":1.6e-7},{"c":"Brems","l":-140,"v":1.2e-7},{"c":"Brems","l":-115,"v":1.3e-7},{"c":"Brems","l":-109,"v":2.05e-7},{"c":"Brems","l":-105,"v":2.45e-7},{"c":"Brems","l":-101,"v":2.7e-7},{"c":"Brems","l":-99,"v":4.0e-7},{"c":"Brems","l":-97,"v":4.6e-7},{"c":"Brems","l":-94,"v":4.4e-7},
{"c":"Brems","l":-91,"v":6.5e-7},{"c":"Brems","l":-89,"v":6.2e-7},{"c":"Brems","l":-86,"v":4.7e-7},{"c":"Brems","l":-84,"v":3.8e-7},{"c":"Brems","l":-82,"v":4.6e-7},{"c":"Brems","l":-80,"v":4.1e-7},{"c":"Brems","l":-78,"v":7.0e-7},{"c":"Brems","l":-75,"v":6.3e-7},{"c":"Brems","l":-72,"v":5.0e-7},{"c":"Brems","l":-70,"v":4.9e-7},
{"c":"Brems","l":-67,"v":6.3e-7},{"c":"Brems","l":-64,"v":5.6e-7},{"c":"Brems","l":-61,"v":6.9e-7},{"c":"Brems","l":-58,"v":7.0e-7},{"c":"Brems","l":-56,"v":8.8e-7},{"c":"Brems","l":-54,"v":7.4e-7},{"c":"Brems","l":-52,"v":6.6e-7},{"c":"Brems","l":-50,"v":9.5e-7},{"c":"Brems","l":-48,"v":8.9e-7},{"c":"Brems","l":-45,"v":8.2e-7},
{"c":"Brems","l":-42,"v":7.9e-7},{"c":"Brems","l":-39,"v":7.6e-7},{"c":"Brems","l":-37,"v":7.4e-7},{"c":"Brems","l":-35,"v":9.9e-7},{"c":"Brems","l":-32,"v":1.15e-6},{"c":"Brems","l":-27,"v":1.1e-6},{"c":"Brems","l":-24,"v":1.12e-6},{"c":"Brems","l":-20,"v":1.14e-6},{"c":"Brems","l":-16,"v":1.1e-6},{"c":"Brems","l":-13,"v":1.0e-6},
{"c":"Brems","l":-11,"v":8.5e-7},{"c":"Brems","l":-9,"v":9.8e-7},{"c":"Brems","l":-6,"v":9.5e-7},{"c":"Brems","l":-2,"v":1.2e-6},{"c":"Brems","l":0,"v":1.54e-6},{"c":"Brems","l":3,"v":1.3e-6},{"c":"Brems","l":5,"v":9.5e-7},{"c":"Brems","l":8,"v":8.9e-7},{"c":"Brems","l":11,"v":1.08e-6},{"c":"Brems","l":14,"v":1.05e-6},
{"c":"Brems","l":17,"v":9.5e-7},{"c":"Brems","l":19,"v":9.6e-7},{"c":"Brems","l":22,"v":1.25e-6},{"c":"Brems","l":25,"v":1.35e-6},{"c":"Brems","l":28,"v":1.15e-6},{"c":"Brems","l":31,"v":1.12e-6},{"c":"Brems","l":33,"v":1.0e-6},{"c":"Brems","l":37,"v":1.1e-6},{"c":"Brems","l":41,"v":1.04e-6},{"c":"Brems","l":43,"v":8.5e-7},
{"c":"Brems","l":46,"v":7.6e-7},{"c":"Brems","l":50,"v":6.9e-7},{"c":"Brems","l":55,"v":6.5e-7},{"c":"Brems","l":59,"v":5.7e-7},{"c":"Brems","l":62,"v":5.2e-7},{"c":"Brems","l":65,"v":4.7e-7},{"c":"Brems","l":68,"v":4.8e-7},{"c":"Brems","l":71,"v":6.3e-7},{"c":"Brems","l":75,"v":5.5e-7},{"c":"Brems","l":78,"v":9.9e-7},
{"c":"Brems","l":81,"v":8.5e-7},{"c":"Brems","l":84,"v":7.2e-7},{"c":"Brems","l":87,"v":4.8e-7},{"c":"Brems","l":90,"v":5.8e-7},{"c":"Brems","l":93,"v":6.3e-7},{"c":"Brems","l":95,"v":4.0e-7},{"c":"Brems","l":97,"v":3.2e-7},{"c":"Brems","l":100,"v":2.9e-7},{"c":"Brems","l":105,"v":2.6e-7},{"c":"Brems","l":109,"v":3.3e-7},
{"c":"Brems","l":113,"v":3.1e-7},{"c":"Brems","l":117,"v":2.9e-7},{"c":"Brems","l":122,"v":3.25e-7},{"c":"Brems","l":125,"v":3.0e-7},{"c":"Brems","l":129,"v":2.7e-7},{"c":"Brems","l":132,"v":2.3e-7},{"c":"Brems","l":137,"v":2.15e-7},{"c":"Brems","l":140,"v":2.7e-7},{"c":"Brems","l":143,"v":3.3e-7},{"c":"Brems","l":146,"v":2.5e-7},
{"c":"Brems","l":150,"v":3.2e-7},{"c":"Brems","l":155,"v":3.35e-7},{"c":"Brems","l":157,"v":2.6e-7},{"c":"Brems","l":159,"v":1.9e-7},{"c":"Brems","l":162,"v":1.5e-7},{"c":"Brems","l":180,"v":1.4e-7},
{"c":"IC","l":-122,"v":1.9e-7},{"c":"IC","l":-118,"v":2.05e-7},{"c":"IC","l":-110,"v":2.35e-7},{"c":"IC","l":-100,"v":2.7e-7},{"c":"IC","l":-93,"v":3.2e-7},{"c":"IC","l":-86,"v":3.75e-7},{"c":"IC","l":-79,"v":4.6e-7},{"c":"IC","l":-72,"v":5.5e-7},{"c":"IC","l":-66,"v":6.5e-7},{"c":"IC","l":-60,"v":7.7e-7},
{"c":"IC","l":-54,"v":9.5e-7},{"c":"IC","l":-48,"v":1.22e-6},{"c":"IC","l":-42,"v":1.55e-6},{"c":"IC","l":-36,"v":1.9e-6},{"c":"IC","l":-31,"v":2.35e-6},{"c":"IC","l":-26,"v":2.9e-6},{"c":"IC","l":-20,"v":3.3e-6},{"c":"IC","l":-15,"v":3.37e-6},{"c":"IC","l":-8,"v":3.3e-6},{"c":"IC","l":-2,"v":3.15e-6},
{"c":"IC","l":4,"v":3.15e-6},{"c":"IC","l":10,"v":3.28e-6},{"c":"IC","l":16,"v":3.35e-6},{"c":"IC","l":21,"v":3.3e-6},{"c":"IC","l":26,"v":3.0e-6},{"c":"IC","l":30,"v":2.65e-6},{"c":"IC","l":35,"v":2.2e-6},{"c":"IC","l":39,"v":1.83e-6},{"c":"IC","l":44,"v":1.5e-6},{"c":"IC","l":49,"v":1.22e-6},
{"c":"IC","l":54,"v":1.0e-6},{"c":"IC","l":60,"v":8.2e-7},{"c":"IC","l":65,"v":7.1e-7},{"c":"IC","l":70,"v":6.2e-7},{"c":"IC","l":75,"v":5.3e-7},{"c":"IC","l":80,"v":4.5e-7},{"c":"IC","l":85,"v":3.9e-7},{"c":"IC","l":90,"v":3.4e-7},{"c":"IC","l":98,"v":2.85e-7},{"c":"IC","l":105,"v":2.55e-7},
{"c":"IC","l":110,"v":2.35e-7},{"c":"IC","l":114,"v":2.12e-7},{"c":"IC","l":120,"v":1.9e-7},
{"c":"EGB","l":-180,"v":3.9e-7},{"c":"EGB","l":180,"v":3.9e-7},
{"c":"PS","l":-180,"v":1e-7},
{"c":"PS","l":-172.7,"v":1e-7},{"c":"PS","l":-172,"v":7e-6},{"c":"PS","l":-171.3,"v":1e-7},
{"c":"PS","l":-165.7,"v":1e-7},{"c":"PS","l":-165,"v":1.3e-5},{"c":"PS","l":-164.3,"v":1e-7},
{"c":"PS","l":-163.5,"v":1e-7},{"c":"PS","l":-163,"v":1.2e-6},{"c":"PS","l":-162.5,"v":1e-7},
{"c":"PS","l":-154.8,"v":1e-7},{"c":"PS","l":-154,"v":7e-7},{"c":"PS","l":-153.2,"v":1e-7},
{"c":"PS","l":-133.6,"v":1e-7},{"c":"PS","l":-133,"v":2e-6},{"c":"PS","l":-132.4,"v":1e-7},
{"c":"PS","l":-97.7,"v":1e-7},{"c":"PS","l":-97,"v":3.2e-5},{"c":"PS","l":-96.3,"v":1e-7},
{"c":"PS","l":-96.2,"v":1e-7},{"c":"PS","l":-95,"v":2.5e-6},{"c":"PS","l":-93.5,"v":1e-7},
{"c":"PS","l":-89.5,"v":1e-7},{"c":"PS","l":-89,"v":6e-7},{"c":"PS","l":-88.5,"v":1e-7},
{"c":"PS","l":-76.5,"v":1e-7},{"c":"PS","l":-75,"v":3.4e-6},{"c":"PS","l":-73.5,"v":1e-7},
{"c":"PS","l":-69.8,"v":1e-7},{"c":"PS","l":-69,"v":2.4e-6},{"c":"PS","l":-68.2,"v":1e-7},
{"c":"PS","l":-67.5,"v":1e-7},{"c":"PS","l":-66,"v":5e-7},{"c":"PS","l":-64.5,"v":1e-7},
{"c":"PS","l":-61.6,"v":1e-7},{"c":"PS","l":-61,"v":6e-7},{"c":"PS","l":-60.4,"v":1e-7},
{"c":"PS","l":-54.7,"v":1e-7},{"c":"PS","l":-54,"v":1.4e-6},{"c":"PS","l":-53.3,"v":1e-7},
{"c":"PS","l":-51.7,"v":1e-7},{"c":"PS","l":-51,"v":2.5e-6},{"c":"PS","l":-50.3,"v":1e-7},
{"c":"PS","l":-47.8,"v":1e-7},{"c":"PS","l":-47,"v":5e-6},{"c":"PS","l":-46.2,"v":1e-7},
{"c":"PS","l":-42.2,"v":1e-7},{"c":"PS","l":-41,"v":1.2e-6},{"c":"PS","l":-39.8,"v":1e-7},
{"c":"PS","l":-38.5,"v":1e-7},{"c":"PS","l":-37,"v":9e-7},{"c":"PS","l":-35.5,"v":1e-7},
{"c":"PS","l":-35,"v":1e-7},{"c":"PS","l":-34,"v":4.8e-6},{"c":"PS","l":-33,"v":1e-7},
{"c":"PS","l":-30.6,"v":1e-7},{"c":"PS","l":-30,"v":2.5e-6},{"c":"PS","l":-29.4,"v":1e-7},
{"c":"PS","l":-27.8,"v":1e-7},{"c":"PS","l":-27,"v":6.3e-6},{"c":"PS","l":-26.2,"v":1e-7},
{"c":"PS","l":-24.6,"v":1e-7},{"c":"PS","l":-24,"v":2e-6},{"c":"PS","l":-23.4,"v":1e-7},
{"c":"PS","l":-20.6,"v":1e-7},{"c":"PS","l":-20,"v":1.2e-6},{"c":"PS","l":-19.4,"v":1e-7},
{"c":"PS","l":-14.5,"v":1e-7},{"c":"PS","l":-14,"v":8e-7},{"c":"PS","l":-13.5,"v":1e-7},
{"c":"PS","l":-11.7,"v":1e-7},{"c":"PS","l":-11,"v":1.8e-6},{"c":"PS","l":-10.3,"v":1e-7},
{"c":"PS","l":-6.2,"v":1e-7},{"c":"PS","l":-5,"v":3e-6},{"c":"PS","l":-3.8,"v":1e-7},
{"c":"PS","l":0.2,"v":1e-7},{"c":"PS","l":1,"v":1.2e-5},{"c":"PS","l":1.8,"v":1e-7},
{"c":"PS","l":3.2,"v":1e-7},{"c":"PS","l":4,"v":2.5e-6},{"c":"PS","l":4.8,"v":1e-7},
{"c":"PS","l":6.1,"v":1e-7},{"c":"PS","l":7,"v":4.8e-6},{"c":"PS","l":7.9,"v":1e-7},
{"c":"PS","l":9.4,"v":1e-7},{"c":"PS","l":10,"v":1.5e-6},{"c":"PS","l":10.6,"v":1e-7},
{"c":"PS","l":12.4,"v":1e-7},{"c":"PS","l":13,"v":2e-6},{"c":"PS","l":13.6,"v":1e-7},
{"c":"PS","l":16.3,"v":1e-7},{"c":"PS","l":17,"v":8e-6},{"c":"PS","l":17.7,"v":1e-7},
{"c":"PS","l":20.4,"v":1e-7},{"c":"PS","l":21,"v":1.5e-6},{"c":"PS","l":21.6,"v":1e-7},
{"c":"PS","l":23.2,"v":1e-7},{"c":"PS","l":25,"v":2.5e-6},{"c":"PS","l":26.8,"v":1e-7},
{"c":"PS","l":27.4,"v":1e-7},{"c":"PS","l":28,"v":1.6e-6},{"c":"PS","l":28.6,"v":1e-7},
{"c":"PS","l":30.5,"v":1e-7},{"c":"PS","l":31,"v":1.2e-6},{"c":"PS","l":31.5,"v":1e-7},
{"c":"PS","l":34.3,"v":1e-7},{"c":"PS","l":35,"v":6e-6},{"c":"PS","l":35.7,"v":1e-7},
{"c":"PS","l":38.5,"v":1e-7},{"c":"PS","l":39,"v":1.0e-6},{"c":"PS","l":39.5,"v":1e-7},
{"c":"PS","l":42.3,"v":1e-7},{"c":"PS","l":43,"v":2.7e-6},{"c":"PS","l":43.7,"v":1e-7},
{"c":"PS","l":48.3,"v":1e-7},{"c":"PS","l":49,"v":3.7e-6},{"c":"PS","l":49.7,"v":1e-7},
{"c":"PS","l":51.5,"v":1e-7},{"c":"PS","l":52,"v":6e-7},{"c":"PS","l":52.5,"v":1e-7},
{"c":"PS","l":56.5,"v":1e-7},{"c":"PS","l":57,"v":5e-7},{"c":"PS","l":57.5,"v":1e-7},
{"c":"PS","l":65.5,"v":1e-7},{"c":"PS","l":67,"v":4e-7},{"c":"PS","l":68.5,"v":1e-7},
{"c":"PS","l":72.4,"v":1e-7},{"c":"PS","l":73,"v":6e-7},{"c":"PS","l":73.6,"v":1e-7},
{"c":"PS","l":74.2,"v":1e-7},{"c":"PS","l":75,"v":2.3e-6},{"c":"PS","l":75.8,"v":1e-7},
{"c":"PS","l":77.7,"v":1e-7},{"c":"PS","l":79,"v":3.0e-6},{"c":"PS","l":80.3,"v":1e-7},
{"c":"PS","l":88.4,"v":1e-7},{"c":"PS","l":89,"v":1.2e-6},{"c":"PS","l":89.6,"v":1e-7},
{"c":"PS","l":106.4,"v":1e-7},{"c":"PS","l":107,"v":1.5e-6},{"c":"PS","l":107.6,"v":1e-7},
{"c":"PS","l":110.4,"v":1e-7},{"c":"PS","l":111,"v":1.5e-6},{"c":"PS","l":111.6,"v":1e-7},
{"c":"PS","l":112.6,"v":1e-7},{"c":"PS","l":113,"v":3e-7},{"c":"PS","l":113.4,"v":1e-7},
{"c":"PS","l":115.5,"v":1e-7},{"c":"PS","l":116,"v":4e-7},{"c":"PS","l":116.5,"v":1e-7},
{"c":"PS","l":120.5,"v":1e-7},{"c":"PS","l":121,"v":4.5e-7},{"c":"PS","l":121.5,"v":1e-7},
{"c":"PS","l":125.2,"v":1e-7},{"c":"PS","l":126,"v":5e-7},{"c":"PS","l":126.8,"v":1e-7},
{"c":"PS","l":130.6,"v":1e-7},{"c":"PS","l":131,"v":3e-7},{"c":"PS","l":131.4,"v":1e-7},
{"c":"PS","l":134.3,"v":1e-7},{"c":"PS","l":135,"v":3.2e-6},{"c":"PS","l":135.7,"v":1e-7},
{"c":"PS","l":139.6,"v":1e-7},{"c":"PS","l":140,"v":3e-7},{"c":"PS","l":140.4,"v":1e-7},
{"c":"PS","l":148.6,"v":1e-7},{"c":"PS","l":149,"v":3e-7},{"c":"PS","l":149.4,"v":1e-7},
{"c":"PS","l":157.6,"v":1e-7},{"c":"PS","l":158,"v":3e-7},{"c":"PS","l":158.4,"v":1e-7},
{"c":"PS","l":166.6,"v":1e-7},{"c":"PS","l":167,"v":2.6e-7},{"c":"PS","l":167.4,"v":1e-7},
{"c":"PS","l":180,"v":1e-7}
]
},
"vconcat": [
{
  "width": 1994, "height": 1330,
  "title": {"text": "Eᵧ = 10 GeV", "fontSize": 97, "font": "DejaVu Sans", "fontWeight": "normal", "color": "black", "offset": -61, "baseline": "alphabetic", "anchor": "middle"},
  "resolve": {"axis": {"x": "independent", "y": "independent"}},
  "layer": [
    {
      "data": {"name": "obs"},
      "mark": {"type": "area", "color": "#A070A0", "opacity": 0.42, "clip": true},
      "encoding": {
        "x": {"field": "l", "type": "quantitative", "scale": {"domain": [-180, 180], "nice": false, "zero": false},
              "axis": {"orient": "bottom", "values": [-100, 0, 100], "tickSize": -29, "labelPadding": 82, "title": "Galactic Longitude [deg]", "titlePadding": 20, "format": "d"}},
        "y": {"field": "lo", "type": "quantitative", "scale": {"type": "log", "domain": [2e-7, 5e-5], "nice": false},
              "axis": {"orient": "left", "values": [1e-6, 1e-5], "tickSize": -45, "tickWidth": 4, "labelPadding": 68, "labelExpr": "datum.value < 5e-6 ? '10⁻⁶' : '10⁻⁵'", "title": "Eᵧ² dΦ/dEᵧdΩ [GeV cm⁻²s⁻¹sr⁻¹]", "titleFontSize": 78, "titlePadding": 48}},
        "y2": {"field": "hi"}
      }
    },
    {
      "data": {"name": "curves"},
      "mark": {"type": "line", "clip": true, "strokeCap": "butt", "strokeJoin": "round"},
      "encoding": {
        "x": {"field": "l", "type": "quantitative", "scale": {"domain": [-180, 180], "nice": false, "zero": false},
              "axis": {"orient": "top", "values": [-100, 0, 100], "tickSize": -29, "labels": false, "title": null}},
        "y": {"field": "v", "type": "quantitative", "scale": {"type": "log", "domain": [2e-7, 5e-5], "nice": false},
              "axis": {"orient": "right", "values": [1e-6, 1e-5], "tickSize": -45, "tickWidth": 4, "labels": false, "title": null}},
        "color": {"field": "c", "type": "nominal",
                  "scale": {"domain": ["IC", "Brems", "π⁰", "Total", "PS", "EGB"], "range": ["#0000FF", "#FF0000", "#00EE00", "#000000", "#F2C200", "#A0522D"]},
                  "legend": {"title": null, "orient": "none", "legendX": 1516, "legendY": 24, "symbolType": "M0.563,0L8.61,0", "symbolSize": 1892, "symbolStrokeWidth": 5, "labelFontSize": 44, "labelFont": "DejaVu Sans", "labelColor": "black", "labelOffset": 193, "rowPadding": 5, "padding": 18, "fillColor": "white", "strokeColor": "#999999"}},
        "strokeDash": {"field": "c", "type": "nominal",
                  "scale": {"domain": ["IC", "Brems", "π⁰", "Total", "PS", "EGB"], "range": [[5, 13], [27, 27], [27, 13, 5, 15], [1, 0], [40, 14, 6, 14, 6, 14, 6, 14], [54, 27]]},
                  "legend": {"title": null, "orient": "none", "legendX": 1516, "legendY": 24, "symbolType": "M0.563,0L8.61,0", "symbolSize": 1892, "symbolStrokeWidth": 5, "labelFontSize": 44, "labelFont": "DejaVu Sans", "labelColor": "black", "labelOffset": 193, "rowPadding": 5, "padding": 18, "fillColor": "white", "strokeColor": "#999999"}},
        "strokeWidth": {"field": "c", "type": "nominal", "legend": null,
                  "scale": {"domain": ["IC", "Brems", "π⁰", "Total", "PS", "EGB"], "range": [6, 7, 6, 6.5, 2, 7]}}
      }
    },
    {
      "data": {"name": "obs"},
      "mark": {"type": "point", "shape": "M-1,0L1,0M0,-1.3L0,1.3M-1,-1.3L1,-1.3M-1,1.3L1,1.3", "size": 784, "filled": false, "color": "#A020F0", "strokeWidth": 2, "opacity": 0.8, "clip": true},
      "encoding": {
        "x": {"field": "l", "type": "quantitative", "scale": {"domain": [-180, 180], "nice": false, "zero": false},
              "axis": {"orient": "bottom", "values": [-170,-160,-150,-140,-130,-120,-110,-90,-80,-70,-60,-50,-40,-30,-20,-10,10,20,30,40,50,60,70,80,90,110,120,130,140,150,160,170], "tickSize": -14, "labels": false, "title": null}},
        "y": {"field": "d", "type": "quantitative", "scale": {"type": "log", "domain": [2e-7, 5e-5], "nice": false},
              "axis": {"orient": "left", "values": [3e-7,4e-7,5e-7,6e-7,7e-7,8e-7,9e-7,2e-6,3e-6,4e-6,5e-6,6e-6,7e-6,8e-6,9e-6,2e-5,3e-5,4e-5], "tickSize": -24, "tickWidth": 4, "labels": false, "title": null}}
      }
    },
    {
      "data": {"name": "obs"},
      "mark": {"type": "circle", "size": 230, "color": "#A020F0", "opacity": 1, "clip": true},
      "encoding": {
        "x": {"field": "l", "type": "quantitative", "scale": {"domain": [-180, 180], "nice": false, "zero": false},
              "axis": {"orient": "top", "values": [-170,-160,-150,-140,-130,-120,-110,-90,-80,-70,-60,-50,-40,-30,-20,-10,10,20,30,40,50,60,70,80,90,110,120,130,140,150,160,170], "tickSize": -14, "labels": false, "title": null}},
        "y": {"field": "d", "type": "quantitative", "scale": {"type": "log", "domain": [2e-7, 5e-5], "nice": false},
              "axis": {"orient": "right", "values": [3e-7,4e-7,5e-7,6e-7,7e-7,8e-7,9e-7,2e-6,3e-6,4e-6,5e-6,6e-6,7e-6,8e-6,9e-6,2e-5,3e-5,4e-5], "tickSize": -24, "tickWidth": 4, "labels": false, "title": null}}
      }
    },
    {
      "data": {"values": [{"label": "KRAᵧ"}]},
      "mark": {"type": "text", "fontSize": 42, "font": "DejaVu Sans", "color": "#333333"},
      "encoding": {
        "text": {"field": "label"},
        "x": {"datum": -136, "type": "quantitative", "axis": null},
        "y": {"datum": 3.76e-5, "type": "quantitative", "axis": null}
      }
    }
  ]
},
{
  "width": 1994, "height": 533,
  "resolve": {"axis": {"x": "independent", "y": "independent"}},
  "layer": [
    {
      "data": {"values": [{"lo": -0.2, "hi": 0.2}]},
      "mark": {"type": "rect", "color": "#E2E2E2"},
      "encoding": {
        "x": {"datum": -180, "type": "quantitative", "scale": {"domain": [-180, 180], "nice": false, "zero": false},
              "axis": {"orient": "bottom", "values": [-100, 0, 100], "tickSize": -12, "labelPadding": 59, "title": "Galactic Longitude [deg]", "titlePadding": 26, "format": "d"}},
        "x2": {"datum": 180},
        "y": {"field": "lo", "type": "quantitative", "scale": {"domain": [-1, 1], "nice": false, "zero": false},
              "axis": {"orient": "left", "values": [-1, -0.5, 0, 0.5, 1], "tickSize": -41, "tickWidth": 4, "labelPadding": 65, "format": ".1f", "labelFlush": true, "title": "(data\u00a0\u00a0−\u00a0\u00a0model)/data", "titleFontSize": 78, "titleY": 310, "titlePadding": 50}},
        "y2": {"field": "hi"}
      }
    },
    {
      "data": {"name": "obs"},
      "mark": {"type": "errorbar", "ticks": {"size": 26, "thickness": 2, "color": "#A020F0"}, "rule": {"strokeWidth": 2, "color": "#A020F0"}},
      "encoding": {
        "x": {"field": "l", "type": "quantitative", "scale": {"domain": [-180, 180], "nice": false, "zero": false},
              "axis": {"orient": "top", "values": [-100, 0, 100], "tickSize": -12, "labels": false, "title": null}},
        "y": {"field": "r", "type": "quantitative", "scale": {"domain": [-1, 1], "nice": false, "zero": false},
              "axis": {"orient": "right", "values": [-1, -0.5, 0, 0.5, 1], "tickSize": -41, "tickWidth": 4, "labels": false, "title": null}},
        "yError": {"field": "e"}
      }
    },
    {
      "data": {"name": "obs"},
      "mark": {"type": "point", "shape": "diamond", "filled": true, "size": 750, "color": "#A020F0", "opacity": 1},
      "encoding": {
        "x": {"field": "l", "type": "quantitative", "scale": {"domain": [-180, 180], "nice": false, "zero": false},
              "axis": {"orient": "bottom", "values": [-170,-160,-150,-140,-130,-120,-110,-90,-80,-70,-60,-50,-40,-30,-20,-10,10,20,30,40,50,60,70,80,90,110,120,130,140,150,160,170], "tickSize": -6, "labels": false, "title": null}},
        "y": {"field": "r", "type": "quantitative", "scale": {"domain": [-1, 1], "nice": false, "zero": false},
              "axis": {"orient": "left", "values": [-0.9,-0.8,-0.7,-0.6,-0.4,-0.3,-0.2,-0.1,0.1,0.2,0.3,0.4,0.6,0.7,0.8,0.9], "tickSize": -22, "tickWidth": 4, "labels": false, "title": null}}
      }
    },
    {
      "data": {"name": "obs"},
      "mark": {"type": "point", "shape": "diamond", "filled": true, "size": 750, "color": "#A020F0", "opacity": 0},
      "encoding": {
        "x": {"field": "l", "type": "quantitative", "scale": {"domain": [-180, 180], "nice": false, "zero": false},
              "axis": {"orient": "top", "values": [-170,-160,-150,-140,-130,-120,-110,-90,-80,-70,-60,-50,-40,-30,-20,-10,10,20,30,40,50,60,70,80,90,110,120,130,140,150,160,170], "tickSize": -6, "labels": false, "title": null}},
        "y": {"field": "r", "type": "quantitative", "scale": {"domain": [-1, 1], "nice": false, "zero": false},
              "axis": {"orient": "right", "values": [-0.9,-0.8,-0.7,-0.6,-0.4,-0.3,-0.2,-0.1,0.1,0.2,0.3,0.4,0.6,0.7,0.8,0.9], "tickSize": -22, "tickWidth": 4, "labels": false, "title": null}}
      }
    }
  ]
}
]
}
